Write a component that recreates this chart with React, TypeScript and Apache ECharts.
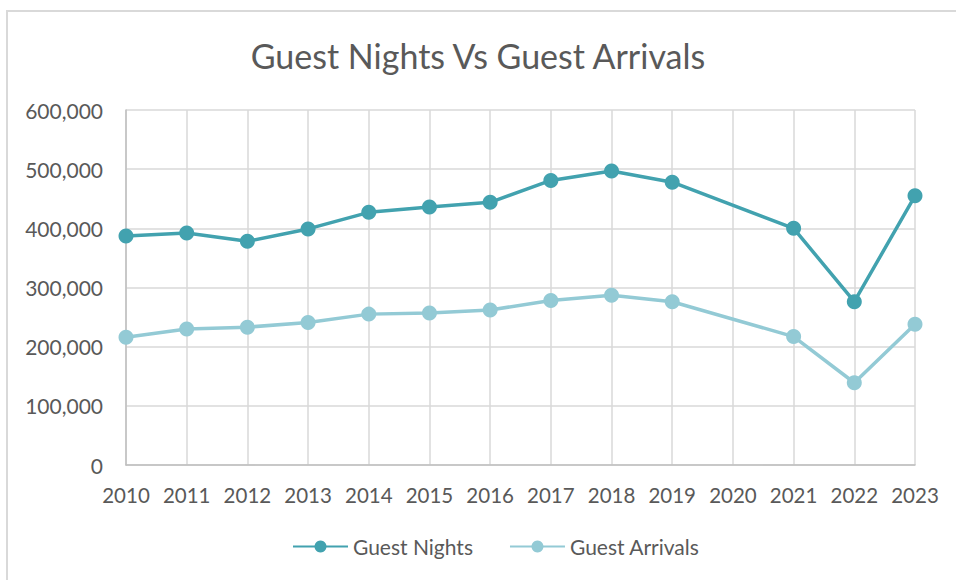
import React, { useEffect, useRef } from "react";
import * as echarts from "echarts";

const years = ["2010", "2011", "2012", "2013", "2014", "2015", "2016", "2017", "2018", "2019", "2020", "2021", "2022", "2023"];
const guestNights = [387000, 392000, 378000, 399000, 427000, 436000, 444000, 481000, 497000, 478000, null, 400000, 276000, 455000];
const guestArrivals = [216000, 230000, 233000, 241000, 255000, 257000, 262000, 278000, 287000, 276000, null, 217000, 139000, 238000];
const titleText = "Guest Nights Vs Guest Arrivals";

const FONT = "Lato";
const TXT = "#595959";

export default function App() {
  const ref = useRef<HTMLDivElement>(null);
  useEffect(() => {
    if (!ref.current) return;
    const chart = echarts.init(ref.current, null, { renderer: "svg" });
    chart.setOption({
      animation: false,
      backgroundColor: "#ffffff",
      title: {
        text: titleText,
        left: "center",
        top: 33,
        textStyle: { fontFamily: FONT, fontSize: 34, fontWeight: "normal", color: TXT },
      },
      graphic: [
        {
          type: "polyline",
          shape: { points: [[7, 580], [7, 11], [956, 11]] },
          style: { stroke: "#d9d9d9", lineWidth: 2, fill: "none" },
          silent: true,
        },
      ],
      legend: {
        bottom: 18,
        left: 287,
        itemWidth: 55,
        itemHeight: 15,
        itemGap: 36,
        textStyle: { fontFamily: FONT, fontSize: 21, color: TXT },
        data: ["Guest Nights", "Guest Arrivals"],
      },
      grid: { left: 126, right: 41, top: 110, bottom: 115, containLabel: false },
      xAxis: {
        type: "category",
        data: years,
        boundaryGap: false,
        axisLine: { lineStyle: { color: "#bfbfbf", width: 1.5 } },
        axisTick: { show: false },
        axisLabel: { interval: 0, hideOverlap: false, fontFamily: FONT, fontSize: 20.5, color: TXT, margin: 19 },
        splitLine: { show: true, interval: 0, lineStyle: { color: "#d9d9d9", width: 1.5 } },
      },
      yAxis: {
        type: "value",
        min: 0,
        max: 600000,
        interval: 100000,
        axisLine: { show: true, lineStyle: { color: "#bfbfbf", width: 1.5 } },
        axisTick: { show: false },
        axisLabel: {
          fontFamily: FONT,
          fontSize: 21,
          color: TXT,
          margin: 23,
          formatter: (v: number) => v.toLocaleString("en-US"),
        },
        splitLine: { show: true, lineStyle: { color: "#d9d9d9", width: 1.5 } },
      },
      series: [
        {
          name: "Guest Nights",
          type: "line",
          data: guestNights,
          connectNulls: true,
          symbol: "circle",
          symbolSize: 15,
          lineStyle: { color: "#42a2af", width: 3.5 },
          itemStyle: { color: "#42a2af" },
        },
        {
          name: "Guest Arrivals",
          type: "line",
          data: guestArrivals,
          connectNulls: true,
          symbol: "circle",
          symbolSize: 15,
          lineStyle: { color: "#93cad5", width: 3.5 },
          itemStyle: { color: "#93cad5" },
        },
      ],
    });
    return () => chart.dispose();
  }, []);
  return (
    <div
      ref={ref}
      style={{ position: "fixed", left: 0, top: 0, width: 956, height: 580, background: "#fff" }}
    />
  );
}
